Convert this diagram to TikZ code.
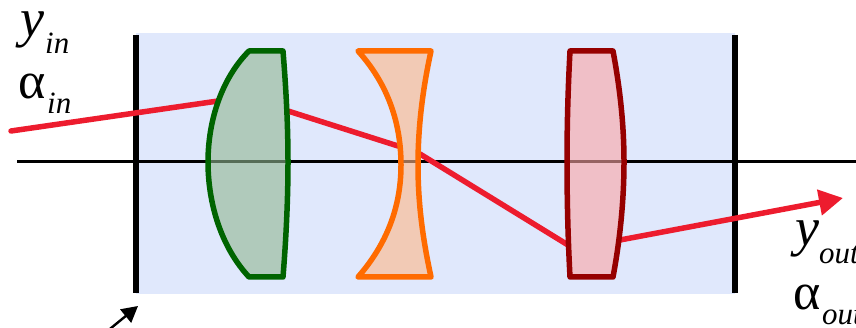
\documentclass[tikz,border=0pt]{standalone}
\usepackage{fontspec}
\setmainfont{Liberation Serif}
\usetikzlibrary{arrows.meta}
\definecolor{panel}{RGB}{224,232,252}
\definecolor{rayred}{RGB}{237,28,46}
\definecolor{lensgreen}{RGB}{0,100,0}
\definecolor{lensorange}{RGB}{255,107,0}
\definecolor{lensred}{RGB}{150,0,0}
\definecolor{fillgreen}{RGB}{144,183,145}
\definecolor{fillorange}{RGB}{255,182,135}
\definecolor{fillred}{RGB}{251,165,165}
\tikzset{
  bar/.style={line width=6pt,black},
  axisline/.style={line width=3pt,black},
  ray/.style={line width=5.5pt,rayred,line cap=round},
  lens/.style={line width=5.5pt,line join=round,fill opacity=.6},
  big/.style={anchor=base west,inner sep=0pt,font=\fontsize{54}{54}\selectfont\itshape},
  bigalpha/.style={anchor=base west,inner sep=0pt,font=\fontsize{52}{52}\selectfont},
  small/.style={anchor=base west,inner sep=0pt,font=\fontsize{31}{31}\selectfont\itshape}
}
\begin{document}
\begin{tikzpicture}[x=1pt,y=-1pt]
\useasboundingbox (0,0) rectangle (856,328);
\clip (0,0) rectangle (856,328);
\fill[panel] (136,33) rectangle (735,294);
\coordinate (axL) at (17,162);
\coordinate (axR) at (856,162);
\draw[axisline] (axL) -- (axR);
\coordinate (b1t) at (136,35); \coordinate (b1b) at (136,293);
\coordinate (b2t) at (735,35); \coordinate (b2b) at (735,293);
\draw[bar] (b1t) -- (b1b);
\draw[bar] (b2t) -- (b2b);
\coordinate (r0) at (11,131); \coordinate (r1) at (218,101);
\coordinate (r2) at (288,111); \coordinate (r3) at (398,146);
\coordinate (r4) at (420,154); \coordinate (r5) at (568,245);
\coordinate (r6) at (620,240); \coordinate (r7) at (843,198);
\draw[ray] (r0) -- (r1);
\draw[ray] (r2) -- (r3);
\draw[ray] (r4) -- (r5);
\draw[ray,line cap=butt,-{Triangle[length=24pt,width=25pt]}] (r6) -- (r7);
% green lens
\draw[lens,draw=lensgreen,fill=fillgreen,draw opacity=1]
  (249,51) -- (283,51)
  .. controls (286,88) and (288,125) .. (288,162)
  .. controls (288,200) and (286,240) .. (283,277)
  -- (249,277)
  .. controls (222,248) and (208,205) .. (208,162)
  .. controls (208,120) and (222,78) .. (249,51) -- cycle;
% orange lens
\draw[lens,draw=lensorange,fill=fillorange,draw opacity=1]
  (358,51) -- (431,51)
  .. controls (423,88) and (418,125) .. (418,165)
  .. controls (418,205) and (423,240) .. (431,277)
  -- (358,277)
  .. controls (386,245) and (401,208) .. (401,165)
  .. controls (401,120) and (386,82) .. (358,51) -- cycle;
% dark red lens
\draw[lens,draw=lensred,fill=fillred,draw opacity=1]
  (570,51) -- (613,51)
  .. controls (620,88) and (624,125) .. (624,162)
  .. controls (624,200) and (620,240) .. (613,277)
  -- (570,277)
  .. controls (568,240) and (567,200) .. (567,162)
  .. controls (567,125) and (568,88) .. (570,51) -- cycle;
% lower arrow
\coordinate (a0) at (105,333); \coordinate (a1) at (138,306);
\draw[line width=2.4pt,black,-{Triangle[length=16pt,width=17pt]}] (a0) -- (a1);
% labels
\node[big] (yin) at (20,37) {y};
\node[small] (yinsub) at (45,54) {in};
\node[bigalpha] (ain) at (18,99) {α};
\node[small] (ainsub) at (47,114) {in};
\node[big] (yout) at (795,246) {y};
\node[small] (youtsub) at (819,264) {out};
\node[bigalpha] (aout) at (793,309) {α};
\node[small] (aoutsub) at (822,324) {out};
\end{tikzpicture}
\end{document}
